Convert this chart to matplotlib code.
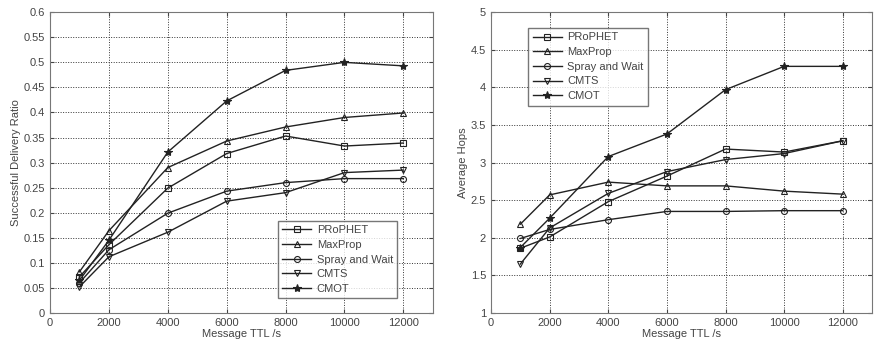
import numpy as np
import matplotlib
matplotlib.use('Agg')
import matplotlib.pyplot as plt

# --- Data
ttl = [1000, 2000, 4000, 6000, 8000, 10000, 12000]
labels = ['PRoPHET', 'MaxProp', 'Spray and Wait', 'CMTS', 'CMOT']
markers = ['s', '^', 'o', 'v', '*']

# Successful delivery ratio
sdr_prophet = [0.072, 0.136, 0.249, 0.318, 0.353, 0.333, 0.339]
sdr_maxprop = [0.082, 0.164, 0.290, 0.343, 0.371, 0.390, 0.399]
sdr_spray = [0.060, 0.126, 0.199, 0.243, 0.260, 0.268, 0.268]
sdr_cmts = [0.052, 0.112, 0.161, 0.223, 0.240, 0.280, 0.285]
sdr_cmot = [0.065, 0.145, 0.321, 0.423, 0.484, 0.500, 0.493]

# Average hops
hops_prophet = [1.86, 2.01, 2.48, 2.82, 3.18, 3.14, 3.29]
hops_maxprop = [2.18, 2.57, 2.74, 2.69, 2.69, 2.62, 2.58]
hops_spray = [1.99, 2.11, 2.24, 2.35, 2.35, 2.36, 2.36]
hops_cmts = [1.65, 2.13, 2.59, 2.88, 3.04, 3.12, 3.29]
hops_cmot = [1.87, 2.26, 3.08, 3.38, 3.97, 4.28, 4.28]

sdr_all = [sdr_prophet, sdr_maxprop, sdr_spray, sdr_cmts, sdr_cmot]
hops_all = [hops_prophet, hops_maxprop, hops_spray, hops_cmts, hops_cmot]

txt = '#444444'
plt.rcParams['font.family'] = ['Liberation Sans', 'DejaVu Sans']
plt.rcParams['font.size'] = 8

fig = plt.figure(figsize=(8.74, 3.5), dpi=100)
ax1 = fig.add_axes([0.0572, 0.106, 0.438, 0.859])
ax2 = fig.add_axes([0.5618, 0.106, 0.436, 0.859])


def style(ax):
    ax.set_xlim(0, 13000)
    ax.set_xticks([0, 2000, 4000, 6000, 8000, 10000, 12000])
    ax.grid(True, color='#333333', linestyle=(0, (1, 1.6)), linewidth=0.7)
    ax.tick_params(direction='in', colors=txt, labelsize=8, length=3, top=True, right=True)
    for s in ax.spines.values():
        s.set_color('#777777')
        s.set_linewidth(0.8)
    ax.set_xlabel('Message TTL /s', color=txt, fontsize=8, labelpad=1)


def draw(ax, data):
    for series, lab, mk in zip(data, labels, markers):
        ax.plot(ttl, series, color='#222222', lw=1.0, marker=mk,
                markersize=4.3 if mk != '*' else 6,
                markerfacecolor='none' if mk != '*' else '#222222',
                markeredgewidth=0.8, label=lab)


def legend(ax, **kw):
    leg = ax.legend(fontsize=8, frameon=True, fancybox=False, edgecolor='#555555',
                    handlelength=2.6, borderpad=0.4, labelspacing=0.42,
                    handletextpad=0.5, **kw)
    for t in leg.get_texts():
        t.set_color(txt)


draw(ax1, sdr_all)
style(ax1)
ax1.set_ylim(0, 0.6)
ax1.set_yticks(np.arange(0, 0.61, 0.05))
ax1.set_yticklabels(['0', '0.05', '0.1', '0.15', '0.2', '0.25', '0.3', '0.35', '0.4',
                     '0.45', '0.5', '0.55', '0.6'])
ax1.set_ylabel('Successful Delivery Ratio', color=txt, fontsize=8, labelpad=2)
legend(ax1, loc='lower right', bbox_to_anchor=(0.922, 0.03))

draw(ax2, hops_all)
style(ax2)
ax2.set_ylim(1, 5)
ax2.set_yticks(np.arange(1, 5.01, 0.5))
ax2.set_yticklabels(['1', '1.5', '2', '2.5', '3', '3.5', '4', '4.5', '5'])
ax2.set_ylabel('Average Hops', color=txt, fontsize=8, labelpad=2)
legend(ax2, loc='upper left', bbox_to_anchor=(0.083, 0.966))

fig.savefig('out.png', dpi=100)
